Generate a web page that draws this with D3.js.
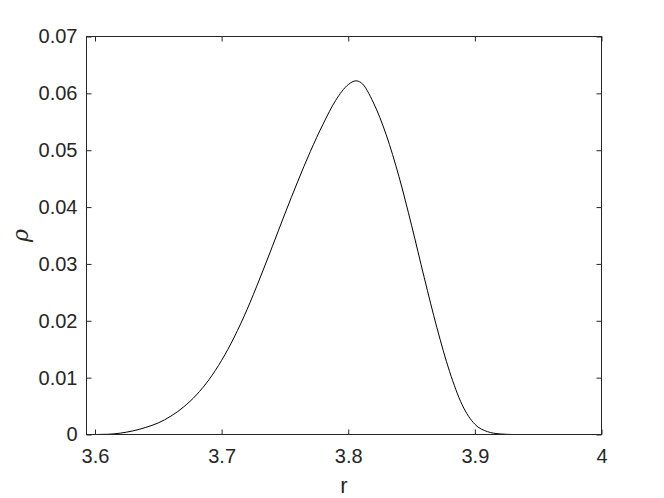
<!DOCTYPE html>
<html>
<head>
<meta charset="utf-8">
<script src="https://cdn.jsdelivr.net/npm/d3@7"></script>
<style>
  html, body { margin: 0; padding: 0; background: #fff; }
  svg { display: block; }
  text { font-family: "Liberation Sans", Arial, Helvetica, sans-serif; }
</style>
</head>
<body>
<svg id="chart" width="664" height="498"></svg>
<script>
// Data
const rValues = [3.600, 3.610, 3.620, 3.630, 3.640, 3.650, 3.660, 3.670, 3.680, 3.690,
                 3.700, 3.710, 3.720, 3.730, 3.740, 3.750, 3.760, 3.770, 3.780, 3.790,
                 3.800, 3.806, 3.810, 3.820, 3.830, 3.840, 3.850, 3.860, 3.870, 3.880,
                 3.890, 3.900, 3.910, 3.920, 3.930];
const rhoValues = [0.0000, 0.00004, 0.00024, 0.00064, 0.00124, 0.00204, 0.00324, 0.00484, 0.00694, 0.00964,
                   0.01304, 0.01714, 0.02194, 0.02734, 0.03304, 0.03884, 0.04444, 0.04974, 0.05454, 0.05874,
                   0.06154, 0.0622, 0.0619, 0.0583, 0.0527, 0.0454, 0.0368, 0.0276, 0.0188, 0.0111,
                   0.0052, 0.0018, 0.0005, 0.0001, 0.0000];
const xTicks = [3.6, 3.7, 3.8, 3.9, 4];
const xTickLabels = ["3.6", "3.7", "3.8", "3.9", "4"];
const yTicks = [0, 0.01, 0.02, 0.03, 0.04, 0.05, 0.06, 0.07];
const yTickLabels = ["0", "0.01", "0.02", "0.03", "0.04", "0.05", "0.06", "0.07"];
const xDomain = [3.59329, 4];
const yDomain = [0, 0.07];
const xLabel = "r";
const yLabel = "ρ";

const svg = d3.select("#chart");
const mLeft = 86.5, mRight = 601.5, mTop = 36.5, mBottom = 434.5;
const axisColor = "#262626";

const x = d3.scaleLinear().domain(xDomain).range([mLeft, mRight]);
const y = d3.scaleLinear().domain(yDomain).range([mBottom, mTop]);

const data = rValues.map((r, i) => ({ r, v: rhoValues[i] }));

// curve
const line = d3.line().x(d => x(d.r)).y(d => y(d.v)).curve(d3.curveMonotoneX);
svg.append("path")
  .datum(data)
  .attr("d", line)
  .attr("fill", "none")
  .attr("stroke", "#000")
  .attr("stroke-width", 1);

function styleAxis(g) {
  g.select(".domain").remove();
  g.selectAll(".tick line").attr("stroke", axisColor);
  g.selectAll(".tick text")
    .attr("fill", axisColor)
    .style("font-size", "20px")
    .style("font-family", '"Liberation Sans", Arial, Helvetica, sans-serif');
}

// bottom axis
svg.append("g")
  .attr("transform", `translate(0,${mBottom})`)
  .call(d3.axisBottom(x).tickValues(xTicks).tickFormat((d, i) => xTickLabels[i])
        .tickSizeInner(-5).tickSizeOuter(0).tickPadding(14))
  .call(styleAxis);

// top axis (ticks only)
svg.append("g")
  .attr("transform", `translate(0,${mTop})`)
  .call(d3.axisTop(x).tickValues(xTicks).tickFormat("")
        .tickSizeInner(-5).tickSizeOuter(0))
  .call(styleAxis);

// left axis
svg.append("g")
  .attr("transform", `translate(${mLeft},0)`)
  .call(d3.axisLeft(y).tickValues(yTicks).tickFormat((d, i) => yTickLabels[i])
        .tickSizeInner(-5).tickSizeOuter(0).tickPadding(9))
  .call(styleAxis);

// right axis (ticks only)
svg.append("g")
  .attr("transform", `translate(${mRight},0)`)
  .call(d3.axisRight(y).tickValues(yTicks).tickFormat("")
        .tickSizeInner(-5).tickSizeOuter(0))
  .call(styleAxis);

// box
svg.append("rect")
  .attr("x", mLeft).attr("y", mTop)
  .attr("width", mRight - mLeft).attr("height", mBottom - mTop)
  .attr("fill", "none")
  .attr("stroke", axisColor)
  .attr("stroke-width", 1);

// x label
svg.append("text")
  .attr("x", (mLeft + mRight) / 2)
  .attr("y", 493)
  .attr("text-anchor", "middle")
  .attr("fill", axisColor)
  .style("font-size", "22px")
  .text(xLabel);

// y label
svg.append("text")
  .attr("transform", `translate(28,${(mTop + mBottom) / 2}) rotate(-90)`)
  .attr("text-anchor", "middle")
  .attr("fill", axisColor)
  .style("font-size", "22px")
  .style("font-style", "italic")
  .style("font-family", '"DejaVu Serif", "Liberation Serif", serif')
  .text(yLabel);
</script>
</body>
</html>
